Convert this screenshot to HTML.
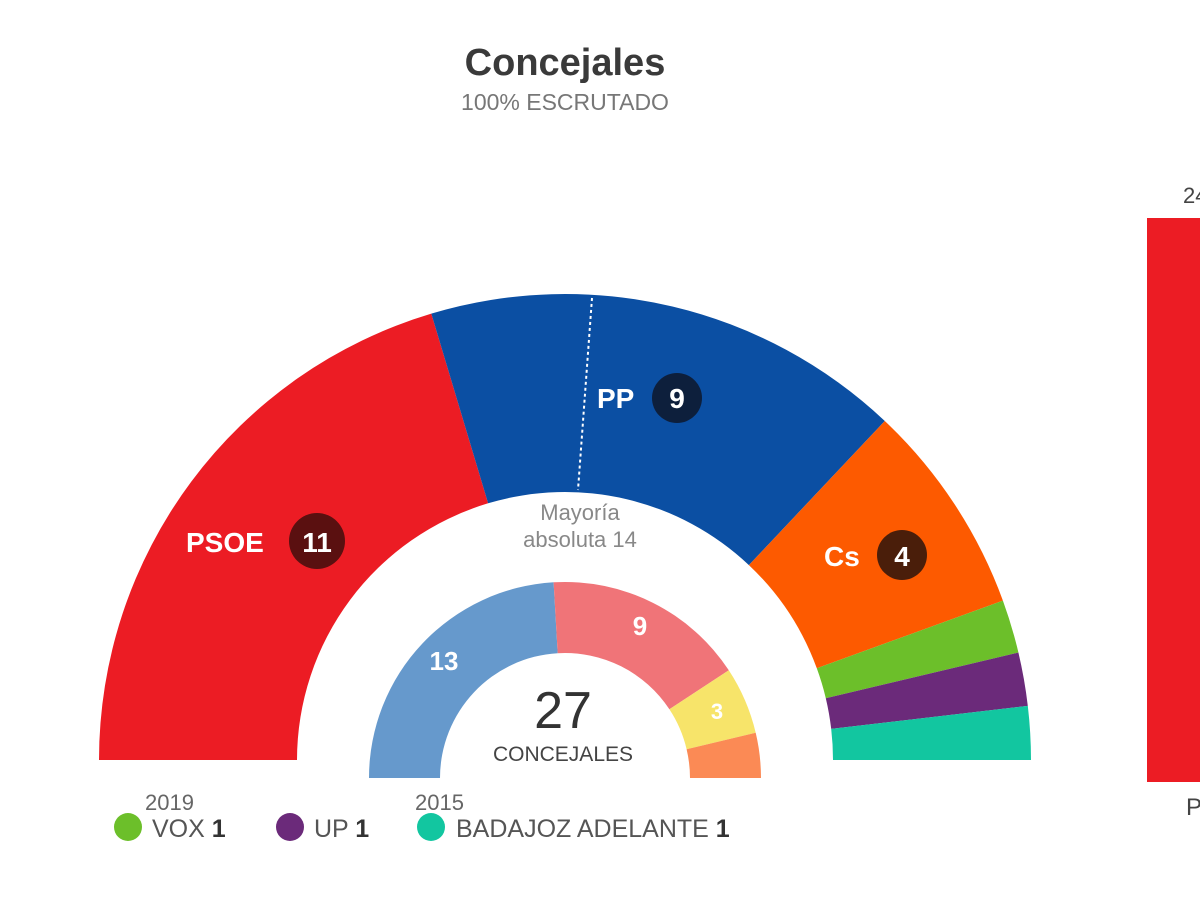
<!DOCTYPE html>
<html><head><meta charset="utf-8"><style>
body{margin:0;background:#fff;width:1200px;height:900px;overflow:hidden;font-family:"Liberation Sans",Arial,sans-serif}
</style></head><body>
<svg id="s" width="1200" height="900" xmlns="http://www.w3.org/2000/svg" font-family="Liberation Sans, Arial, sans-serif">
<text x="565" y="75" text-anchor="middle" font-size="38" font-weight="bold" fill="#3a3a3a">Concejales</text>
<text x="565" y="110" text-anchor="middle" font-size="23" fill="#777">100% ESCRUTADO</text>
<rect x="1147" y="218" width="60" height="564" fill="#ec1c24"/>
<text x="1183" y="203" font-size="22" fill="#444">24</text>
<text x="1186" y="815" font-size="24" fill="#444">P</text>
<g id="arcs"></g>
<line x1="592" y1="298" x2="578" y2="490" stroke="#fff" stroke-width="2" stroke-dasharray="3,3"/>
<text x="186" y="552" font-size="28" font-weight="bold" fill="#fff">PSOE</text>
<circle cx="317" cy="541" r="28" fill="#5a1010"/>
<text x="317" y="552" text-anchor="middle" font-size="28" font-weight="bold" fill="#fff">11</text>
<text x="597" y="408" font-size="28" font-weight="bold" fill="#fff">PP</text>
<circle cx="677" cy="398" r="25" fill="#0d1f3c"/>
<text x="677" y="408" text-anchor="middle" font-size="28" font-weight="bold" fill="#fff">9</text>
<text x="824" y="566" font-size="28" font-weight="bold" fill="#fff">Cs</text>
<circle cx="902" cy="555" r="25" fill="#4a1e0a"/>
<text x="902" y="566" text-anchor="middle" font-size="28" font-weight="bold" fill="#fff">4</text>
<text x="580" y="520" text-anchor="middle" font-size="22" fill="#888">Mayoría</text>
<text x="580" y="547" text-anchor="middle" font-size="22" fill="#888">absoluta 14</text>
<text x="444" y="670" text-anchor="middle" font-size="26" font-weight="bold" fill="#fff">13</text>
<text x="640" y="635" text-anchor="middle" font-size="26" font-weight="bold" fill="#fff">9</text>
<text x="717" y="719" text-anchor="middle" font-size="22" font-weight="bold" fill="#fff">3</text>
<text x="563" y="728" text-anchor="middle" font-size="52" fill="#333">27</text>
<text x="563" y="761" text-anchor="middle" font-size="21" fill="#444">CONCEJALES</text>
<text x="145" y="810" font-size="22" fill="#666">2019</text>
<text x="415" y="810" font-size="22" fill="#666">2015</text>
<circle cx="128" cy="827" r="14" fill="#6cbf2a"/>
<text x="152" y="837" font-size="25" fill="#555">VOX <tspan font-weight="bold" fill="#333">1</tspan></text>
<circle cx="290" cy="827" r="14" fill="#6b2a7a"/>
<text x="314" y="837" font-size="25" fill="#555">UP <tspan font-weight="bold" fill="#333">1</tspan></text>
<circle cx="431" cy="827" r="14" fill="#12c6a0"/>
<text x="456" y="837" font-size="25" fill="#555">BADAJOZ ADELANTE <tspan font-weight="bold" fill="#333">1</tspan></text>
</svg>
<script>
function arc(cx,cy,r1,r2,a1,a2,col){
 var t=Math.PI/180,p=function(r,a){return (cx+r*Math.cos(a*t)).toFixed(1)+","+(cy-r*Math.sin(a*t)).toFixed(1)};
 return '<path d="M'+p(r2,a1)+' A'+r2+','+r2+' 0 0 1 '+p(r2,a2)+' L'+p(r1,a2)+' A'+r1+','+r1+' 0 0 0 '+p(r1,a1)+'Z" fill="'+col+'"/>';
}
var s=180/27,h='',a=180;
[[11,'#ec1c24'],[9,'#0b4fa3'],[4,'#fd5a00'],[1,'#6cbf2a'],[1,'#6b2a7a'],[1,'#12c6a0']].forEach(function(d){var b=a-d[0]*s;h+=arc(565,760,268,466,a,b,d[1]);a=b;});
a=180;
[[13,'#6699cc'],[9,'#f07478'],[3,'#f7e46a'],[2,'#fb8a55']].forEach(function(d){var b=a-d[0]*s;h+=arc(565,778,125,196,a,b,d[1]);a=b;});
document.getElementById('arcs').innerHTML=h;
</script>
</body></html>
